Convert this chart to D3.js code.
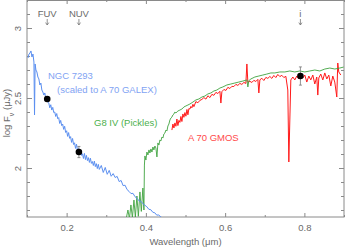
<!DOCTYPE html>
<html>
<head>
<meta charset="utf-8">
<script src="https://cdn.jsdelivr.net/npm/d3@7"></script>
<style>
  body { margin: 0; background: #fff; }
  svg { display: block; font-family: "Liberation Sans", Arial, sans-serif; }
</style>
</head>
<body>
<div class="svg-container"></div>
<script>
// spectra: [wavelength (um), log F_nu (uJy)]
const ngcSpec = [
  [0.1025, 2.786], [0.105, 2.814], [0.1075, 2.821], [0.110, 2.836], [0.1125, 2.793],
  [0.115, 2.814], [0.1175, 2.757], [0.119, 2.379], [0.1205, 2.743], [0.1225, 2.700],
  [0.125, 2.686], [0.1275, 2.650], [0.130, 2.636], [0.1325, 2.593], [0.135, 2.607],
  [0.1375, 2.557], [0.140, 2.543], [0.1425, 2.521], [0.145, 2.536], [0.1475, 2.493],
  [0.150, 2.507], [0.1525, 2.471], [0.155, 2.464], [0.1575, 2.430], [0.160, 2.452],
  [0.1625, 2.414], [0.165, 2.433], [0.1675, 2.396], [0.170, 2.400], [0.1725, 2.368],
  [0.175, 2.389], [0.1775, 2.352], [0.180, 2.360], [0.1825, 2.318], [0.185, 2.340],
  [0.1875, 2.303], [0.190, 2.314], [0.1925, 2.276], [0.195, 2.298], [0.1975, 2.254],
  [0.200, 2.266], [0.2025, 2.226], [0.205, 2.253], [0.2075, 2.212], [0.210, 2.224],
  [0.2125, 2.183], [0.215, 2.211], [0.2175, 2.168], [0.220, 2.180], [0.2225, 2.140],
  [0.225, 2.170], [0.2275, 2.125], [0.230, 2.138], [0.2325, 2.097], [0.235, 2.126],
  [0.2375, 2.090], [0.240, 2.102], [0.2425, 2.068], [0.245, 2.104], [0.2475, 2.060],
  [0.250, 2.090], [0.2525, 2.053], [0.255, 2.074], [0.2575, 2.040], [0.260, 2.070],
  [0.2625, 2.033], [0.265, 2.046], [0.2675, 2.018], [0.270, 2.049], [0.2725, 2.010],
  [0.275, 2.031], [0.2775, 1.996], [0.280, 2.026], [0.2825, 1.990], [0.2875, 2.018],
  [0.2925, 1.968], [0.2975, 2.004], [0.3025, 1.955], [0.3075, 1.983], [0.3125, 1.941],
  [0.3175, 1.960], [0.3225, 1.932], [0.3275, 1.940], [0.3325, 1.903], [0.3375, 1.911],
  [0.3425, 1.874], [0.3475, 1.877], [0.3525, 1.846], [0.3575, 1.833], [0.3625, 1.817],
  [0.3675, 1.819], [0.3725, 1.795], [0.3775, 1.784], [0.3825, 1.766], [0.3875, 1.762],
  [0.3925, 1.745], [0.3975, 1.734], [0.4025, 1.723], [0.4075, 1.705], [0.4125, 1.702],
  [0.4175, 1.684], [0.4225, 1.680], [0.4275, 1.663], [0.4325, 1.665], [0.4375, 1.650],
  [0.4425, 1.643]
];

const picklesSpec = [
  [0.3497, 1.629], [0.3547, 1.700], [0.3585, 1.640], [0.3623, 1.736], [0.3660, 1.645],
  [0.3699, 1.771], [0.3735, 1.650], [0.3774, 1.800], [0.3810, 1.655], [0.3850, 1.829],
  [0.3885, 1.690], [0.3925, 1.857], [0.3951, 1.700], [0.3963, 2.021], [0.3976, 2.086],
  [0.4001, 2.057], [0.4026, 2.114], [0.4052, 2.093], [0.4077, 2.129], [0.4102, 2.107],
  [0.4127, 2.136], [0.4153, 2.114], [0.4178, 2.150], [0.4203, 2.129], [0.4228, 2.157],
  [0.4253, 2.143], [0.4279, 2.079], [0.4304, 2.179], [0.4329, 2.164], [0.4354, 2.200],
  [0.4379, 2.193], [0.4405, 2.221], [0.4430, 2.214], [0.4455, 2.243], [0.4480, 2.250],
  [0.4506, 2.271], [0.4531, 2.264], [0.4556, 2.300], [0.4581, 2.314], [0.4607, 2.343],
  [0.4632, 2.357], [0.4657, 2.364], [0.4682, 2.379], [0.4708, 2.386], [0.4733, 2.400],
  [0.4758, 2.393], [0.4808, 2.407], [0.4859, 2.414], [0.4909, 2.421], [0.4960, 2.436],
  [0.5010, 2.443], [0.5061, 2.450], [0.5111, 2.457], [0.5187, 2.471], [0.5262, 2.486],
  [0.5338, 2.493], [0.5414, 2.507], [0.5489, 2.514], [0.5565, 2.529], [0.5641, 2.536],
  [0.5716, 2.550], [0.5792, 2.557], [0.5868, 2.571], [0.5943, 2.579], [0.6044, 2.593],
  [0.6145, 2.600], [0.6246, 2.607], [0.6347, 2.614], [0.6448, 2.621], [0.6549, 2.629],
  [0.6574, 2.579], [0.6600, 2.624], [0.6650, 2.636], [0.6750, 2.650], [0.6851, 2.657],
  [0.6952, 2.664], [0.7053, 2.671], [0.7154, 2.679], [0.7255, 2.679], [0.7381, 2.686],
  [0.7507, 2.686], [0.7633, 2.693], [0.7759, 2.686], [0.7885, 2.693], [0.8011, 2.686],
  [0.8137, 2.693], [0.8264, 2.700], [0.8390, 2.693], [0.8516, 2.707], [0.8642, 2.714],
  [0.8768, 2.707], [0.8894, 2.714], [0.8990, 2.721]
];

const gmosSpec = [
  [0.4657, 2.271], [0.4682, 2.314], [0.4708, 2.286], [0.4733, 2.322], [0.4758, 2.298],
  [0.4783, 2.350], [0.4808, 2.303], [0.4834, 2.340], [0.4859, 2.326], [0.4884, 2.368],
  [0.4909, 2.332], [0.4934, 2.386], [0.4960, 2.362], [0.4985, 2.396], [0.5010, 2.370],
  [0.5036, 2.418], [0.5061, 2.380], [0.5086, 2.425], [0.5111, 2.421], [0.5136, 2.440],
  [0.5162, 2.430], [0.5187, 2.455], [0.5212, 2.438], [0.5262, 2.474], [0.5313, 2.466],
  [0.5363, 2.483], [0.5414, 2.490], [0.5464, 2.503], [0.5515, 2.492], [0.5565, 2.516],
  [0.5616, 2.503], [0.5666, 2.526], [0.5716, 2.519], [0.5767, 2.540], [0.5817, 2.532],
  [0.5868, 2.548], [0.5893, 2.464], [0.5918, 2.545], [0.5969, 2.561], [0.6019, 2.554],
  [0.6069, 2.576], [0.6120, 2.568], [0.6170, 2.583], [0.6221, 2.582], [0.6271, 2.597],
  [0.6322, 2.590], [0.6372, 2.604], [0.6422, 2.597], [0.6473, 2.611], [0.6523, 2.604],
  [0.6549, 2.743], [0.6574, 2.612], [0.6624, 2.619], [0.6675, 2.611], [0.6725, 2.626],
  [0.6776, 2.618], [0.6826, 2.633], [0.6851, 2.536], [0.6877, 2.630], [0.6927, 2.641],
  [0.6977, 2.625], [0.7028, 2.647], [0.7078, 2.640], [0.7129, 2.654], [0.7179, 2.640],
  [0.7229, 2.661], [0.7280, 2.646], [0.7330, 2.668], [0.7381, 2.653], [0.7431, 2.662],
  [0.7482, 2.646], [0.7532, 2.655], [0.7582, 2.557], [0.7608, 2.043], [0.7633, 2.343],
  [0.7658, 2.629], [0.7709, 2.650], [0.7759, 2.629], [0.7809, 2.657], [0.7860, 2.636],
  [0.7910, 2.657], [0.7961, 2.643], [0.8011, 2.664], [0.8061, 2.614], [0.8112, 2.657],
  [0.8162, 2.629], [0.8213, 2.664], [0.8263, 2.600], [0.8313, 2.650], [0.8339, 2.521],
  [0.8364, 2.643], [0.8414, 2.671], [0.8465, 2.629], [0.8515, 2.679], [0.8566, 2.636],
  [0.8616, 2.664], [0.8667, 2.586], [0.8717, 2.657], [0.8767, 2.614], [0.8818, 2.507],
  [0.8843, 2.750], [0.8868, 2.686], [0.8919, 2.664]
];

// photometry points
const bandNames = ["FUV", "NUV", "i"];
const bandWave = [0.151, 0.231, 0.79];
const bandFlux = [2.493, 2.114, 2.657];
const bandErr = [0.015, 0.04, 0.065];

// axis ticks
const xMajor = [0.2, 0.4, 0.6, 0.8];
const xMinor = [0.1, 0.3, 0.5, 0.7, 0.9];
const yMajor = [2, 2.5, 3];
const yMinor = [1.7, 1.8, 1.9, 2.1, 2.2, 2.3, 2.4, 2.6, 2.7, 2.8, 2.9, 3.1];

const width = 345;
const height = 249;
const plot = { left: 27, right: 344, top: 0, bottom: 217 };
const axisColor = "#8a8a8a";
const textColor = "#6a6a6a";

const svg = d3
  .select(".svg-container")
  .append("svg")
  .attr("width", width)
  .attr("height", height);

const xScale = d3.scaleLinear().domain([0.1, 0.9]).range([plot.left, plot.right]);
const yScale = d3.scaleLinear().domain([1.65, 3.2]).range([plot.bottom, plot.top]);

svg
  .append("defs")
  .append("clipPath")
  .attr("id", "clip")
  .append("rect")
  .attr("x", plot.left)
  .attr("y", plot.top)
  .attr("width", plot.right - plot.left)
  .attr("height", plot.bottom - plot.top);

// frame
svg
  .append("rect")
  .attr("x", plot.left)
  .attr("y", plot.top + 0.5)
  .attr("width", plot.right - plot.left)
  .attr("height", plot.bottom - plot.top - 0.5)
  .attr("fill", "none")
  .attr("stroke", axisColor)
  .attr("stroke-width", 1);

// ticks on all four sides, pointing inward
function drawAxis(axisFn, scale, values, size, translate, labels) {
  const g = svg
    .append("g")
    .attr("transform", translate)
    .call(
      axisFn(scale)
        .tickValues(values)
        .tickSize(size)
        .tickPadding(5)
        .tickFormat(labels ? d3.format("") : "")
    );
  g.select(".domain").remove();
  g.selectAll("line").attr("stroke", axisColor);
  g.selectAll("text")
    .attr("fill", textColor)
    .style("font-size", "9.5px")
    .style("font-family", "'Liberation Sans', Arial, sans-serif");
  return g;
}

const xb = drawAxis(d3.axisBottom, xScale, xMajor, -4, `translate(0,${plot.bottom})`, true);
xb.selectAll("text").attr("y", 7).attr("dy", "0.71em");
drawAxis(d3.axisBottom, xScale, xMinor, -2, `translate(0,${plot.bottom})`, false);
drawAxis(d3.axisTop, xScale, xMajor, -4, `translate(0,${plot.top})`, false);
drawAxis(d3.axisTop, xScale, xMinor, -2, `translate(0,${plot.top})`, false);

const yl = drawAxis(d3.axisLeft, yScale, yMajor, -5, `translate(${plot.left},0)`, true);
yl.selectAll("text")
  .attr("transform", "rotate(-90)")
  .attr("x", 0)
  .attr("y", -6)
  .attr("dy", 0)
  .attr("text-anchor", "middle");
drawAxis(d3.axisLeft, yScale, yMinor, -3, `translate(${plot.left},0)`, false);
drawAxis(d3.axisRight, yScale, yMajor, -5, `translate(${plot.right},0)`, false);
drawAxis(d3.axisRight, yScale, yMinor, -3, `translate(${plot.right},0)`, false);

// axis titles
svg
  .append("text")
  .attr("x", (plot.left + plot.right) / 2)
  .attr("y", 245)
  .attr("text-anchor", "middle")
  .attr("fill", textColor)
  .style("font-size", "9.5px")
  .text("Wavelength (\u03bcm)");

const ylab = svg
  .append("text")
  .attr("transform", "translate(10,113) rotate(-90)")
  .attr("text-anchor", "middle")
  .attr("fill", textColor)
  .style("font-size", "9.5px");
ylab.append("tspan").text("log F");
ylab.append("tspan").attr("baseline-shift", "sub").style("font-size", "7px").text("\u03bd");
ylab.append("tspan").text(" (\u03bcJy)");

// spectra
const line = d3
  .line()
  .x((d) => xScale(d[0]))
  .y((d) => yScale(d[1]));

const spectra = svg.append("g").attr("clip-path", "url(#clip)");

spectra
  .append("path")
  .datum(gmosSpec)
  .attr("fill", "none")
  .attr("stroke", "#ff1a1a")
  .attr("stroke-width", 1)
  .attr("d", line);

spectra
  .append("path")
  .datum(picklesSpec)
  .attr("fill", "none")
  .attr("stroke", "#3fa33f")
  .attr("stroke-width", 0.9)
  .attr("d", line);

spectra
  .append("path")
  .datum(ngcSpec)
  .attr("fill", "none")
  .attr("stroke", "#5b8ff0")
  .attr("stroke-width", 1)
  .attr("d", line);

// series labels
const labels = [
  { text: "NGC 7293", x: 48, y: 78.5, color: "#7fa3f3" },
  { text: "(scaled to A 70 GALEX)", x: 57, y: 92.5, color: "#7fa3f3" },
  { text: "G8 IV (Pickles)", x: 94, y: 125.5, color: "#4cb04c" },
  { text: "A 70 GMOS", x: 188, y: 140.5, color: "#ff4a4a" },
];
svg
  .selectAll(".series-label")
  .data(labels)
  .enter()
  .append("text")
  .attr("class", "series-label")
  .attr("x", (d) => d.x)
  .attr("y", (d) => d.y)
  .attr("fill", (d) => d.color)
  .style("font-size", "9.5px")
  .text((d) => d.text);

// band markers at the top
const bands = bandNames.map((name, i) => ({
  name,
  wave: bandWave[i],
  flux: bandFlux[i],
  err: bandErr[i],
}));

svg
  .selectAll(".band-name")
  .data(bands)
  .enter()
  .append("text")
  .attr("class", "band-name")
  .attr("x", (d) => xScale(d.wave))
  .attr("y", 17)
  .attr("text-anchor", "middle")
  .attr("fill", textColor)
  .style("font-size", "9.5px")
  .text((d) => d.name);

svg
  .selectAll(".band-arrow")
  .data(bands)
  .enter()
  .append("path")
  .attr("class", "band-arrow")
  .attr("fill", "none")
  .attr("stroke", "#777")
  .attr("stroke-width", 0.8)
  .attr("d", (d) => {
    const x = xScale(d.wave);
    return `M${x},19V25M${x - 1.6},22.6L${x},25L${x + 1.6},22.6`;
  });

// error bars and points
svg
  .selectAll(".err")
  .data(bands)
  .enter()
  .append("path")
  .attr("class", "err")
  .attr("fill", "none")
  .attr("stroke", "#777")
  .attr("stroke-width", 0.8)
  .attr("d", (d) => {
    const x = xScale(d.wave);
    const y0 = yScale(d.flux - d.err);
    const y1 = yScale(d.flux + d.err);
    return `M${x},${y0}V${y1}M${x - 1.5},${y0}H${x + 1.5}M${x - 1.5},${y1}H${x + 1.5}`;
  });

svg
  .selectAll(".pt")
  .data(bands)
  .enter()
  .append("circle")
  .attr("class", "pt")
  .attr("cx", (d) => xScale(d.wave))
  .attr("cy", (d) => yScale(d.flux))
  .attr("r", 3.3)
  .attr("fill", "#000");
</script>
</body>
</html>
